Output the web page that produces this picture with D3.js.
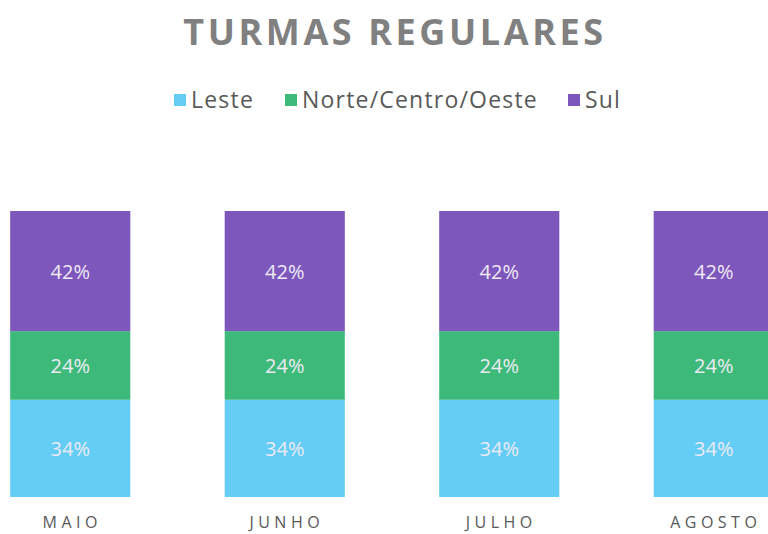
<!DOCTYPE html>
<html>
<head>
<meta charset="utf-8">
<script src="https://cdn.jsdelivr.net/npm/d3@7"></script>
<style>
  body { margin: 0; background: #fff; }
  svg { display: block; }
</style>
</head>
<body>
<div id="chart"></div>
<script>
var svgWidth = 768;
var svgHeight = 534;

// Data
var months = ["MAIO", "JUNHO", "JULHO", "AGOSTO"];
var regions = ["Leste", "Norte/Centro/Oeste", "Sul"];
var leste = [34, 34, 34, 34];
var norte = [24, 24, 24, 24];
var sul = [42, 42, 42, 42];

var colors = ["#64cdf6", "#3dba7a", "#7e57bd"];

var rows = months.map(function(m, i) {
    return { month: m, "Leste": leste[i], "Norte/Centro/Oeste": norte[i], "Sul": sul[i] };
});

var svg = d3.select("#chart")
    .append("svg")
    .attr("width", svgWidth)
    .attr("height", svgHeight);

// Title
svg.append("text")
    .attr("x", 395)
    .attr("y", 45)
    .attr("text-anchor", "middle")
    .style("font-family", "'Open Sans', sans-serif")
    .style("font-weight", "bold")
    .style("font-size", "36px")
    .style("letter-spacing", "3.6px")
    .style("fill", "#808080")
    .text("TURMAS REGULARES");

// Legend
var legendX = [174, 285, 568];
var legend = svg.append("g");
regions.forEach(function(r, i) {
    legend.append("rect")
        .attr("x", legendX[i])
        .attr("y", 94)
        .attr("width", 12)
        .attr("height", 12)
        .attr("fill", colors[i]);
    legend.append("text")
        .attr("x", legendX[i] + 17)
        .attr("y", 108)
        .style("font-family", "'Open Sans', sans-serif")
        .style("font-size", "23px")
        .style("letter-spacing", "1.2px")
        .style("fill", "#595959")
        .text(r);
});

// Scales
var x = d3.scaleBand()
    .domain(months)
    .range([-37, 821])
    .paddingInner(0.44)
    .paddingOuter(0.22);

var y = d3.scaleLinear()
    .domain([0, 100])
    .range([497, 211]);

var stack = d3.stack().keys(regions);
var series = stack(rows);

var groups = svg.selectAll("g.series")
    .data(series)
    .enter()
    .append("g")
    .attr("class", "series")
    .attr("fill", function(d, i) { return colors[i]; });

groups.selectAll("rect")
    .data(function(d) { return d; })
    .enter()
    .append("rect")
    .attr("x", function(d) { return x(d.data.month); })
    .attr("y", function(d) { return y(d[1]); })
    .attr("width", x.bandwidth())
    .attr("height", function(d) { return y(d[0]) - y(d[1]); });

// value labels
groups.selectAll("text")
    .data(function(d) { return d; })
    .enter()
    .append("text")
    .attr("x", function(d) { return x(d.data.month) + x.bandwidth() / 2; })
    .attr("y", function(d) { return (y(d[0]) + y(d[1])) / 2 + 8; })
    .attr("text-anchor", "middle")
    .style("font-family", "'Open Sans', sans-serif")
    .style("font-size", "20px")
    .style("fill", "#eeeaf4")
    .text(function(d) { return (d[1] - d[0]) + "%"; });

// x axis labels
var xAxis = d3.axisBottom(x).tickSize(0).tickPadding(0);
var xg = svg.append("g")
    .attr("transform", "translate(0, 517)")
    .call(xAxis);
xg.select(".domain").remove();
xg.selectAll("text")
    .attr("dy", "0.71em")
    .attr("dx", "2px")
    .style("font-family", "'Open Sans', sans-serif")
    .style("font-size", "16px")
    .style("letter-spacing", "4.5px")
    .style("fill", "#595959");
</script>
</body>
</html>
